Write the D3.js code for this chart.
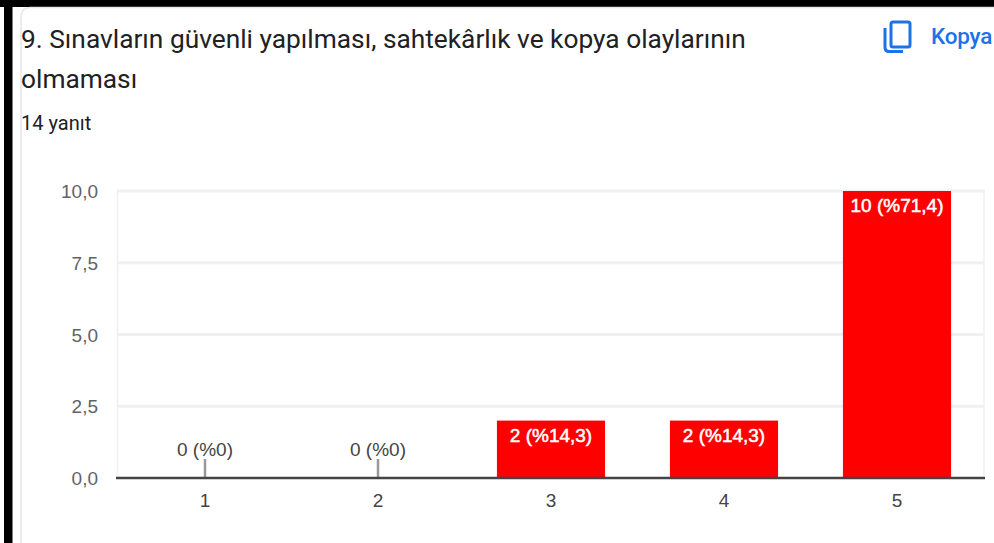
<!DOCTYPE html>
<html>
<head>
<meta charset="utf-8">
<script src="https://cdnjs.cloudflare.com/ajax/libs/d3/7.8.5/d3.min.js"></script>
<style>
  html, body { margin: 0; padding: 0; background: #fff; overflow: hidden; }
  text { font-family: Roboto, Arial, sans-serif; }
  .lab { font-family: "Liberation Sans", Arial, sans-serif; }
</style>
</head>
<body>
<div id="chart"></div>
<script>
var categories = ["1", "2", "3", "4", "5"];
var counts = [0, 0, 2, 2, 10];
var barLabels = ["0 (%0)", "0 (%0)", "2 (%14,3)", "2 (%14,3)", "10 (%71,4)"];
var yTicks = [0, 2.5, 5, 7.5, 10];
var titleLines = ["9. Sınavların güvenli yapılması, sahtekârlık ve kopya olaylarının", "olmaması"];

var width = 994, height = 543;

var svg = d3.select("#chart").append("svg")
  .attr("width", width)
  .attr("height", height)
  .style("display", "block");

// black screenshot frame and the card edge
svg.append("rect").attr("x", 0).attr("y", 0).attr("width", width).attr("height", 7).attr("fill", "#000");
svg.append("rect").attr("x", 4).attr("y", 0).attr("width", 8.5).attr("height", height).attr("fill", "#000");
svg.append("path")
  .attr("d", "M21,543V17Q21,8 30,7.5H994")
  .attr("fill", "none").attr("stroke", "#e6e8ec").attr("stroke-width", 1.6);

svg.selectAll(".title")
  .data(titleLines)
  .enter().append("text")
  .attr("class", "title")
  .attr("x", 21)
  .attr("y", function(d, i) { return 48 + i * 40; })
  .attr("font-size", 26.3)
  .attr("fill", "#202124")
  .text(function(d) { return d; });

svg.append("text")
  .attr("x", 21).attr("y", 130)
  .attr("font-size", 20)
  .attr("fill", "#202124")
  .text("14 yanıt");

// copy icon
var icon = svg.append("g").attr("fill", "none").attr("stroke", "#1a73e8").attr("stroke-width", 3);
icon.append("rect").attr("x", 891).attr("y", 22).attr("width", 19).attr("height", 25).attr("rx", 2);
icon.append("path").attr("d", "M885,28V47Q885,51.5 889,51.5H903");

svg.append("text")
  .attr("x", 931).attr("y", 44)
  .attr("font-size", 22.5)
  .attr("font-weight", 500)
  .attr("letter-spacing", -0.2)
  .attr("fill", "#1a73e8")
  .text("Kopya");

var x = d3.scaleBand()
  .domain(categories)
  .range([118.5, 983.5])
  .paddingInner(0.375)
  .paddingOuter(0.1875);

var y = d3.scaleLinear()
  .domain([0, 10])
  .range([478, 191]);

// horizontal gridlines
svg.append("g").selectAll("line")
  .data(yTicks.slice(1))
  .enter().append("line")
  .attr("x1", 117).attr("x2", 985)
  .attr("y1", function(d) { return y(d); })
  .attr("y2", function(d) { return y(d); })
  .attr("stroke", "#f0f0f0")
  .attr("stroke-width", 3);

// frame sides of the plot
svg.append("g").selectAll("line")
  .data([117.5, 984])
  .enter().append("line")
  .attr("x1", function(d) { return d; }).attr("x2", function(d) { return d; })
  .attr("y1", y(10)).attr("y2", y(0))
  .attr("stroke", "#f0f0f0")
  .attr("stroke-width", 1.5);

svg.append("g").selectAll("text")
  .data(yTicks)
  .enter().append("text")
  .attr("class", "lab")
  .attr("x", 98)
  .attr("y", function(d) { return y(d) + 7; })
  .attr("text-anchor", "end")
  .attr("font-size", 19)
  .attr("fill", "#5f6368")
  .text(function(d) { return d3.format(".1f")(d).replace(".", ","); });

svg.append("g").selectAll("rect")
  .data(counts)
  .enter().append("rect")
  .attr("x", function(d, i) { return x(categories[i]); })
  .attr("y", function(d) { return y(d); })
  .attr("width", x.bandwidth())
  .attr("height", function(d) { return y(0) - y(d); })
  .attr("fill", "#ff0000");

// little stems above the empty bars
svg.append("g").selectAll("line")
  .data(counts.map(function(d, i) { return i; }).filter(function(i) { return counts[i] === 0; }))
  .enter().append("line")
  .attr("x1", function(i) { return x(categories[i]) + x.bandwidth() / 2; })
  .attr("x2", function(i) { return x(categories[i]) + x.bandwidth() / 2; })
  .attr("y1", y(0)).attr("y2", y(0) - 19)
  .attr("stroke", "#999999")
  .attr("stroke-width", 2.5);

svg.append("line")
  .attr("x1", 116).attr("x2", 985)
  .attr("y1", y(0)).attr("y2", y(0))
  .attr("stroke", "#444444")
  .attr("stroke-width", 2.5);

svg.append("g").selectAll("text")
  .data(barLabels)
  .enter().append("text")
  .attr("class", "lab")
  .attr("x", function(d, i) { return x(categories[i]) + x.bandwidth() / 2; })
  .attr("y", function(d, i) { return counts[i] === 0 ? y(0) - 22 : y(counts[i]) + 21; })
  .attr("text-anchor", "middle")
  .attr("font-size", 19)
  .attr("fill", function(d, i) { return counts[i] === 0 ? "#444444" : "#ffffff"; })
  .attr("stroke", function(d, i) { return counts[i] === 0 ? "none" : "#ffffff"; })
  .attr("stroke-width", 0.5)
  .text(function(d) { return d; });

svg.append("g").selectAll("text")
  .data(categories)
  .enter().append("text")
  .attr("class", "lab")
  .attr("x", function(d) { return x(d) + x.bandwidth() / 2; })
  .attr("y", 507)
  .attr("text-anchor", "middle")
  .attr("font-size", 19)
  .attr("fill", "#444444")
  .text(function(d) { return d; });
</script>
</body>
</html>
